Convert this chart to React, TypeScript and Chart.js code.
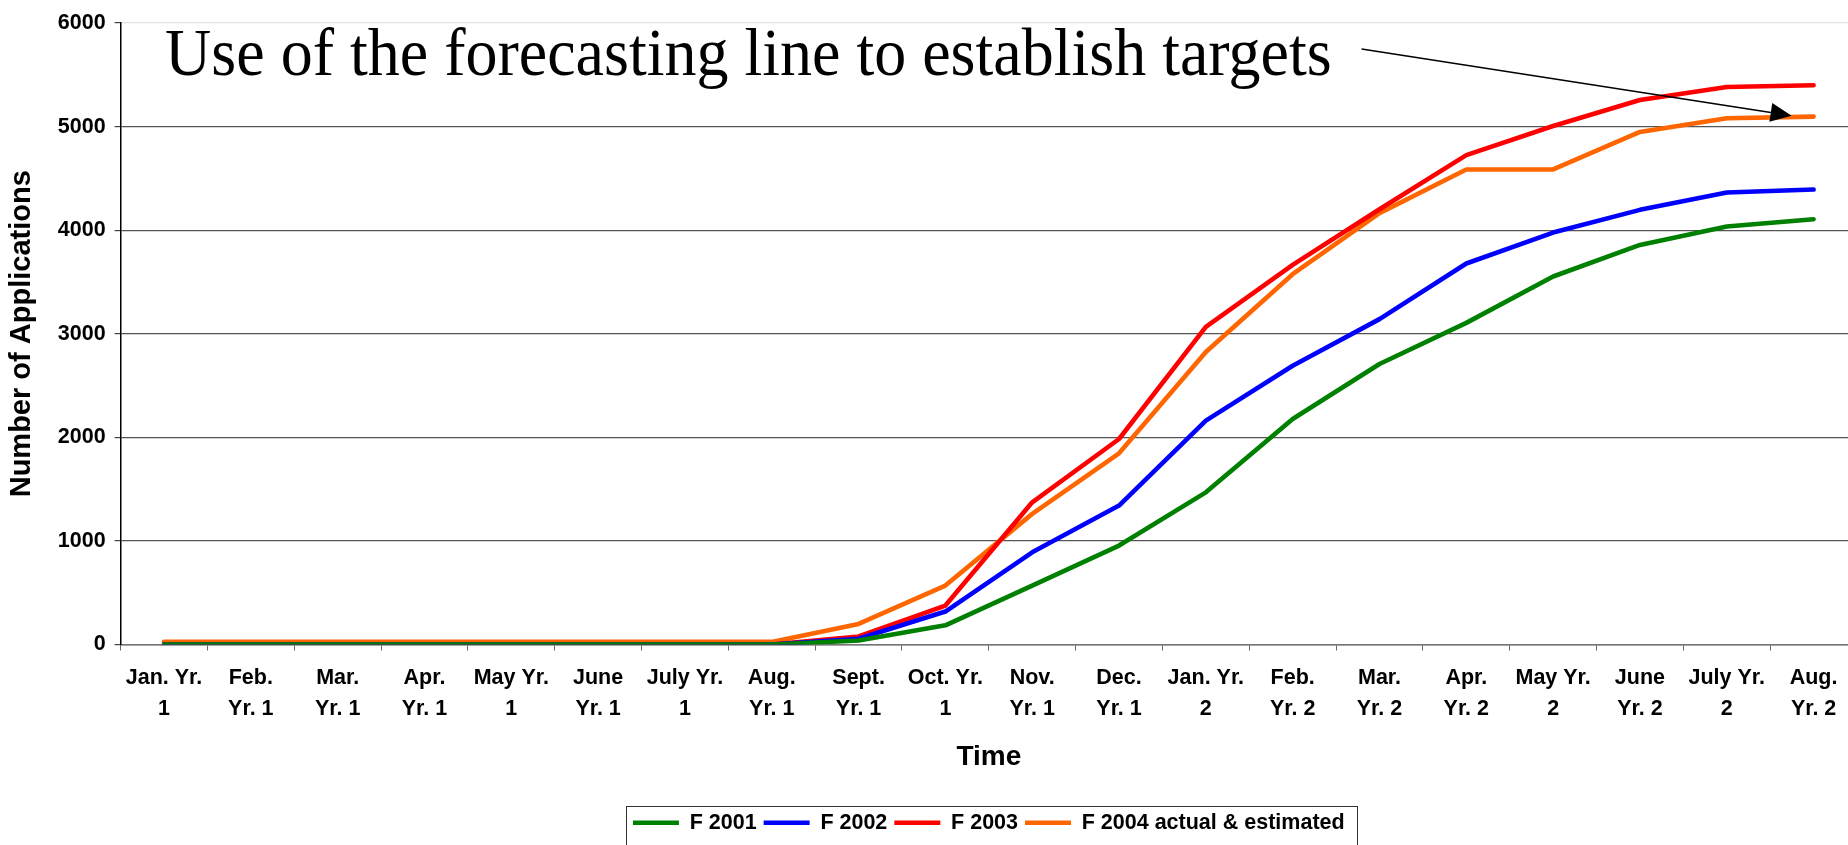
import React, { useEffect, useRef } from "react";
import { Chart, registerables } from "chart.js";

Chart.register(...registerables);

// Months along the horizontal axis (two-line labels)
const months: string[][] = [
  ["Jan. Yr.", "1"], ["Feb.", "Yr. 1"], ["Mar.", "Yr. 1"], ["Apr.", "Yr. 1"],
  ["May Yr.", "1"], ["June", "Yr. 1"], ["July Yr.", "1"], ["Aug.", "Yr. 1"],
  ["Sept.", "Yr. 1"], ["Oct. Yr.", "1"], ["Nov.", "Yr. 1"], ["Dec.", "Yr. 1"],
  ["Jan. Yr.", "2"], ["Feb.", "Yr. 2"], ["Mar.", "Yr. 2"], ["Apr.", "Yr. 2"],
  ["May Yr.", "2"], ["June", "Yr. 2"], ["July Yr.", "2"], ["Aug.", "Yr. 2"],
];

// Cumulative applications per intake
const f2001 = [0, 0, 0, 0, 0, 0, 0, 0, 38, 185, 569, 955, 1469, 2177, 2708, 3105, 3553, 3858, 4035, 4106];
const f2002 = [0, 0, 0, 0, 0, 0, 0, 0, 55, 318, 890, 1341, 2161, 2691, 3141, 3678, 3977, 4196, 4363, 4392];
const f2003 = [0, 0, 0, 0, 0, 0, 0, 0, 77, 376, 1373, 1984, 3067, 3665, 4202, 4724, 5006, 5257, 5382, 5399];
const f2004 = [25, 25, 25, 25, 25, 25, 25, 25, 199, 569, 1261, 1846, 2824, 3575, 4165, 4586, 4586, 4948, 5080, 5096];

const seriesNames = ["F 2001", "F 2002", "F 2003", "F 2004 actual & estimated"];
const seriesColors = ["#008000", "#0000FF", "#FF0000", "#FF6600"];

const yMin = 0;
const yMax = 6000;
const yStep = 1000;

const noteText = "Use of the forecasting line to establish targets";

const SANS = '"Liberation Sans", Arial, Helvetica, sans-serif';
const SERIF = '"Liberation Serif", "Times New Roman", serif';

// Big caption inside the plot with an arrow pointing at the last forecast value
const notePlugin = {
  id: "forecastNote",
  afterDatasetsDraw(chart: any) {
    const { ctx, chartArea, scales } = chart;
    ctx.save();
    ctx.font = `64px ${SERIF}`;
    ctx.fillStyle = "#000";
    ctx.textBaseline = "alphabetic";
    ctx.textAlign = "left";
    const tx = chartArea.left + 44.5;
    const ty = chartArea.top + 52;
    const tw = ctx.measureText(noteText).width;
    ctx.save();
    ctx.translate(tx, ty);
    ctx.scale(1, 1.05);
    ctx.fillText(noteText, 0, 0);
    ctx.restore();

    const sx = tx + tw + 30;
    const sy = chartArea.top + 26;
    const last = f2004.length - 1;
    const ex = scales.x.getPixelForValue(last) - 22;
    const ey = scales.y.getPixelForValue(f2004[last]) - 1;
    const ang = Math.atan2(ey - sy, ex - sx);
    const headLen = 21;
    const headHalf = 9.5;
    const bx = ex - headLen * Math.cos(ang);
    const by = ey - headLen * Math.sin(ang);

    ctx.strokeStyle = "#000";
    ctx.lineWidth = 1.6;
    ctx.beginPath();
    ctx.moveTo(sx, sy);
    ctx.lineTo(bx, by);
    ctx.stroke();

    ctx.fillStyle = "#000";
    ctx.beginPath();
    ctx.moveTo(ex, ey);
    ctx.lineTo(bx + headHalf * Math.sin(ang), by - headHalf * Math.cos(ang));
    ctx.lineTo(bx - headHalf * Math.sin(ang), by + headHalf * Math.cos(ang));
    ctx.closePath();
    ctx.fill();
    ctx.restore();
  },
};

// Thin frame around the legend entries
const legendFramePlugin = {
  id: "legendFrame",
  afterDraw(chart: any) {
    const lg = chart.legend;
    if (!lg || !lg.legendHitBoxes || !lg.legendHitBoxes.length) return;
    const hb = lg.legendHitBoxes;
    const first = hb[0];
    const lastBox = hb[hb.length - 1];
    const left = first.left - 7;
    const right = lastBox.left + lastBox.width + 12;
    const top = first.top - 6;
    const bottom = first.top + 38;
    const { ctx } = chart;
    ctx.save();
    ctx.strokeStyle = "#333";
    ctx.lineWidth = 1;
    ctx.strokeRect(Math.round(left) + 0.5, Math.round(top) + 0.5, Math.round(right - left), Math.round(bottom - top));
    ctx.restore();
  },
};

export default function App() {
  const canvasRef = useRef<HTMLCanvasElement | null>(null);

  useEffect(() => {
    if (!canvasRef.current) return;
    const datasetsSrc = [f2001, f2002, f2003, f2004];
    const chart = new Chart(canvasRef.current, {
      type: "line",
      data: {
        labels: months,
        datasets: datasetsSrc.map((d, i) => ({
          label: seriesNames[i],
          data: d,
          borderColor: seriesColors[i],
          backgroundColor: seriesColors[i],
          borderWidth: 4.6,
          borderCapStyle: "round",
          borderJoinStyle: "round",
          pointRadius: 0,
          pointHoverRadius: 0,
          pointBorderWidth: 4.6,
          pointBorderColor: seriesColors[i],
          pointBackgroundColor: seriesColors[i],
          tension: 0,
          fill: false,
        })) as any,
      },
      options: {
        responsive: false,
        animation: false,
        devicePixelRatio: 1,
        layout: { padding: { left: 0, right: 3, top: 23, bottom: 1.5 } },
        plugins: {
          legend: {
            position: "bottom",
            fullSize: false,
            labels: {
              usePointStyle: true,
              pointStyle: "line",
              pointStyleWidth: 46,
              padding: 7,
              color: "#000",
              font: { family: SANS, size: 21.5, weight: "bold" },
            },
          },
          tooltip: { enabled: false },
          title: { display: false },
        },
        scales: {
          x: {
            type: "category",
            offset: true,
            grid: {
              display: true,
              drawOnChartArea: false,
              drawTicks: true,
              tickLength: 6,
              color: "#666",
              offset: true,
            },
            border: { display: true, color: "#777", width: 1.5 },
            ticks: {
              autoSkip: false,
              maxRotation: 0,
              minRotation: 0,
              padding: 13,
              color: "#000",
              font: { family: SANS, size: 21.5, weight: "bold", lineHeight: 1.4 },
            },
            title: {
              display: true,
              text: "Time",
              color: "#000",
              font: { family: SANS, size: 28, weight: "bold", lineHeight: 1.2 },
              padding: { top: 4, bottom: 31 },
            },
            afterFit(scale: any) {
              scale.height = 160.5;
            },
          },
          y: {
            min: yMin,
            max: yMax,
            grid: {
              color: (c: any) => (c.tick && c.tick.value === yMax ? "#e2e2e2" : "#555"),
              lineWidth: 1.2,
              drawTicks: true,
              tickLength: 6,
              tickColor: "#444",
            },
            border: { display: true, color: "#000", width: 1.5 },
            ticks: {
              stepSize: yStep,
              padding: 9,
              color: "#000",
              font: { family: SANS, size: 21.5, weight: "bold" },
              callback: (v: any) => String(v),
            },
            title: {
              display: true,
              text: "Number of Applications",
              color: "#000",
              font: { family: SANS, size: 29, weight: "bold", lineHeight: 1.2 },
              padding: { top: 5, bottom: 0 },
            },
            afterFit(scale: any) {
              scale.width = 120.6;
            },
          },
        },
      },
      plugins: [notePlugin, legendFramePlugin],
    } as any);
    return () => chart.destroy();
  }, []);

  return (
    <div
      style={{
        position: "fixed",
        left: 0,
        top: 0,
        width: 1848,
        height: 845,
        overflow: "hidden",
        background: "#fff",
      }}
    >
      <canvas ref={canvasRef} width={1860} height={845} style={{ display: "block" }} />
    </div>
  );
}
